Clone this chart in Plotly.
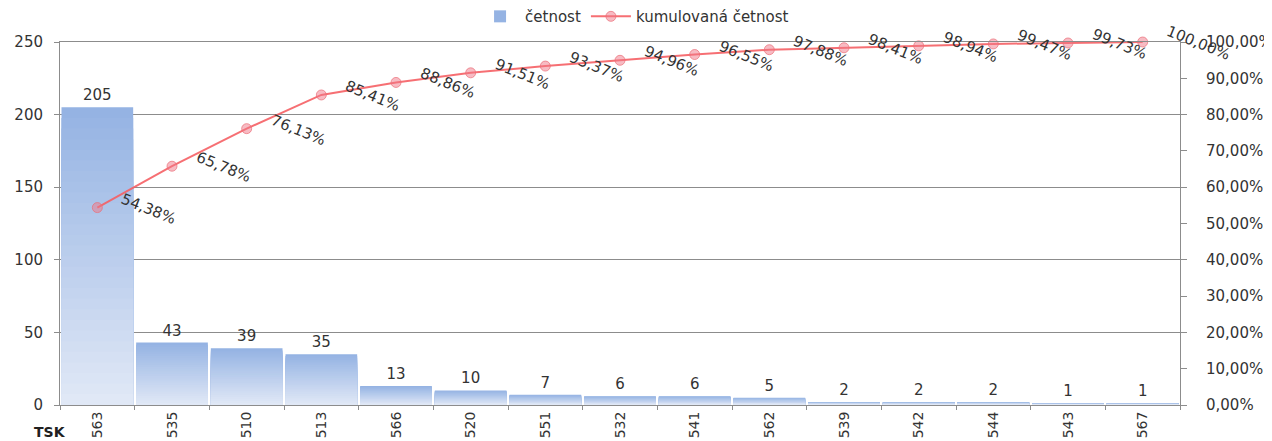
import plotly.graph_objects as go

categories = ["563", "535", "510", "513", "566", "520", "551", "532",
              "541", "562", "539", "542", "544", "543", "567"]
counts = [205, 43, 39, 35, 13, 10, 7, 6, 6, 5, 2, 2, 2, 1, 1]
cum_pct = [54.38, 65.78, 76.13, 85.41, 88.86, 91.51, 93.37, 94.96,
           96.55, 97.88, 98.41, 98.94, 99.47, 99.73, 100.00]

FONT = "DejaVu Sans"
TXT = "#333333"
GRID = "#8c8c8c"

top_rgb = (149, 179, 227)
bot_rgb = (224, 232, 246)
N = 28

fig = go.Figure()
for k in range(N):
    t = k / (N - 1)
    col = "rgb(%d,%d,%d)" % tuple(round(a + (b - a) * t) for a, b in zip(top_rgb, bot_rgb))
    frac = 1 - k / N
    fig.add_trace(go.Bar(
        x=categories, y=[v * frac for v in counts],
        marker=dict(color=col, line=dict(width=0)),
        name="četnost", showlegend=(k == 0), legendgroup="c",
        text=[str(v) for v in counts] if k == 0 else None,
        textposition="outside" if k == 0 else "none",
        textfont=dict(family=FONT, size=15, color=TXT),
        cliponaxis=False, hoverinfo="skip" if k else None,
    ))

fig.add_trace(go.Scatter(
    x=categories, y=[p / 100 for p in cum_pct], yaxis="y2",
    mode="lines+markers", name="kumulovaná četnost",
    line=dict(color="rgba(245,95,100,0.9)", width=2),
    marker=dict(size=10, color="rgba(240,120,135,0.5)",
                line=dict(color="rgba(235,110,120,0.7)", width=1)),
    cliponaxis=False,
))

for i, p in enumerate(cum_pct):
    fig.add_annotation(
        x=i, y=p / 100, yref="y2", xref="x",
        text=("%.2f%%" % p).replace(".", ","),
        textangle=22, showarrow=False,
        xanchor="left", yanchor="middle", xshift=19, yshift=-1,
        font=dict(family=FONT, size=15, color=TXT),
    )

fig.add_annotation(x=-0.009, y=-0.074, xref="paper", yref="paper",
                   text="<b>TSK</b>", showarrow=False,
                   xanchor="center", yanchor="middle",
                   font=dict(family=FONT, size=14, color="#202020"))

fig.update_layout(
    width=1272, height=441,
    margin=dict(l=52, r=100, t=34, b=44, autoexpand=False),
    plot_bgcolor="white", paper_bgcolor="white",
    barmode="overlay", bargap=0.04,
    separators=", ",
    font=dict(family=FONT, size=15, color=TXT),
    legend=dict(orientation="h", x=0.513, xanchor="center", y=1.07, yanchor="middle",
                font=dict(family=FONT, size=15, color=TXT), bgcolor="rgba(0,0,0,0)",
                itemwidth=40, tracegroupgap=0),
    xaxis=dict(type="category", range=[-0.5, len(categories) - 0.5], tickangle=-90, showgrid=False,
               showline=True, linecolor=GRID, linewidth=1, mirror=True,
               ticks="outside", tickson="boundaries", ticklen=4, tickcolor=GRID,
               tickfont=dict(family=FONT, size=14, color=TXT), zeroline=False, automargin=False),
    yaxis=dict(range=[0, 250], dtick=50, showgrid=True, gridcolor=GRID, gridwidth=1,
               showline=True, linecolor=GRID, linewidth=1,
               ticks="outside", ticklen=5, tickcolor=GRID, zeroline=False, automargin=False,
               tickfont=dict(family=FONT, size=15, color=TXT), ticklabelstandoff=8),
    yaxis2=dict(range=[0, 1], dtick=0.1, tickformat=".2%", overlaying="y", side="right",
                showgrid=False, showline=True, linecolor=GRID, linewidth=1,
                ticks="outside", ticklen=6, tickcolor=GRID, zeroline=False, automargin=False,
                tickfont=dict(family=FONT, size=15, color=TXT), ticklabelstandoff=16),
)

fig.write_html("out.html")
